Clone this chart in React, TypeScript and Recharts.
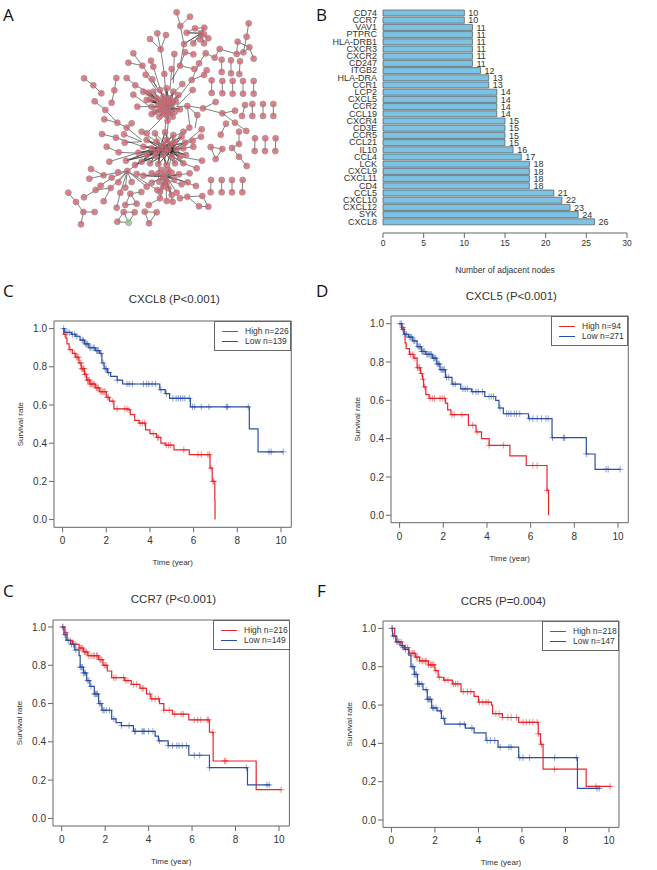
// App.tsx
import {
  BarChart,
  Bar,
  ComposedChart,
  ScatterChart,
  Scatter,
  Line,
  XAxis,
  YAxis,
  LabelList,
  ReferenceArea,
} from "recharts";

const FONT = '"Liberation Sans", Arial, sans-serif';
const RED = "#e8262b";
const BLUE = "#2b4fa3";
const AXIS = "#666";
const TEXT = "#333";

// panel B
const genes = ["CD74","CCR7","VAV1","PTPRC","HLA-DRB1","CXCR3","CXCR2","CD247","ITGB2","HLA-DRA","CCR1","LCP2","CXCL5","CCR2","CCL19","CXCR4","CD3E","CCR5","CCL21","IL10","CCL4","LCK","CXCL9","CXCL11","CD4","CCL5","CXCL10","CXCL12","SYK","CXCL8"];
const adjacent = [10,10,11,11,11,11,11,11,12,13,13,14,14,14,14,15,15,15,15,16,17,18,18,18,18,21,22,23,24,26];
const barTicks = [0,5,10,15,20,25,30];

// panel A at 3x
type P = number[];
const cluster1: P[] = [[460,275],[480,270],[500,265],[520,275],[535,285],[450,298],[470,295],[490,290],[510,295],[528,305],[440,300],[455,320],[475,315],[495,310],[515,315],[540,328],[465,335],[485,335],[505,330],[525,335],[455,342],[478,350],[498,345],[518,350],[503,362],[490,325],[500,300],[510,340],[480,305],[430,275],[445,278],[488,305],[505,318],[497,330],[485,315],[512,305],[492,340],[480,325]];
const cluster2: P[] = [[465,400],[495,397],[520,405],[545,410],[440,420],[470,425],[500,420],[525,425],[555,428],[430,440],[455,445],[480,445],[505,448],[530,448],[550,445],[415,458],[440,465],[465,468],[490,465],[515,470],[540,470],[558,465],[425,485],[450,490],[475,492],[500,495],[525,490],[550,490],[378,482],[405,495],[490,435],[512,432],[495,455],[470,455]];
const cluster3: P[] = [[410,522],[430,527],[455,520],[475,520],[495,525],[515,518],[537,523],[455,548],[478,545],[497,540],[523,538],[490,560],[505,565],[480,575],[515,585],[485,510],[500,548],[490,530],[505,510]];
const outerNodes: P[] = [[530,37],[570,50],[541,78],[560,98],[585,85],[613,83],[603,100],[625,115],[612,103],[600,118],[580,130],[552,132],[612,130],[555,157],[580,163],[617,160],[597,190],[583,207],[620,211],[612,225],[575,240],[540,197],[472,100],[498,105],[450,117],[482,148],[400,160],[385,188],[427,197],[453,182],[460,200],[437,224],[457,238],[493,222],[515,207],[523,162],[252,235],[280,256],[304,280],[349,234],[343,271],[335,308],[380,234],[406,256],[400,284],[284,304],[316,330],[412,320],[313,358],[352,368],[395,370],[380,383],[425,395],[440,400],[306,402],[348,413],[372,403],[374,428],[320,440],[356,457],[328,485],[659,147],[644,173],[710,162],[730,157],[713,125],[740,110],[746,70],[748,142],[761,176],[647,306],[609,325],[667,340],[705,332],[705,368],[739,393],[678,371],[662,404],[717,395],[717,432],[696,444],[717,470],[740,498],[632,441],[667,447],[647,477],[592,345],[562,318],[578,270],[547,252],[205,578],[228,606],[250,636],[284,636],[243,673],[273,507],[268,536],[311,526],[335,533],[354,517],[382,513],[302,557],[287,570],[252,592],[332,564],[311,604],[355,547],[361,578],[395,546],[376,563],[391,581],[424,576],[376,615],[410,611],[350,623],[371,636],[404,637],[352,665],[440,560],[446,615],[434,635],[470,637],[447,670],[472,570],[606,482],[590,505],[569,520],[545,553],[563,547],[588,558],[530,578],[540,595],[562,590],[607,588],[597,619],[625,620],[518,605],[500,603],[480,595],[605,388],[603,410],[568,383],[578,422],[580,440],[550,395]];
const greenNodes: P[] = [[386,668]];
const pairs: P[][] = [[[665,179],[665,216]],[[693,181],[693,220]],[[720,184],[718,222]],[[635,241],[635,279]],[[667,243],[667,280]],[[698,243],[698,281]],[[729,243],[729,281]],[[761,243],[761,281]],[[735,315],[726,348]],[[757,312],[757,348]],[[789,312],[789,348]],[[820,312],[820,348]],[[765,415],[764,453]],[[796,415],[795,453]],[[827,415],[826,453]],[[633,540],[632,577]],[[665,540],[665,577]],[[696,540],[696,577]],[[728,540],[727,577]]];
const paths: P[][] = [
  [[530,37],[541,78],[552,132],[540,197],[515,240]],[[570,50],[541,78]],[[482,148],[472,100]],[[482,148],[498,105]],[[482,148],[450,117]],[[482,148],[493,222],[497,280]],[[400,160],[427,197],[470,260]],[[385,188],[427,197]],[[453,182],[460,200],[480,265]],[[437,224],[470,270]],[[457,238],[480,280]],[[515,207],[510,270]],[[523,162],[520,250]],[[555,157],[540,197]],[[580,163],[555,157]],[[617,160],[597,190],[575,240],[530,300]],[[583,207],[540,197]],[[620,211],[612,225],[575,240]],[[578,270],[530,320]],[[547,252],[510,290]],
  [[560,98],[585,85],[613,83]],[[659,147],[644,173],[617,160]],[[659,147],[710,162],[730,157],[748,142],[761,176]],[[713,125],[710,162]],[[713,125],[748,142]],[[740,110],[746,70]],[[740,110],[730,157]],
  [[252,235],[280,256],[304,280]],[[349,234],[343,271],[335,308]],[[380,234],[406,256],[470,290]],[[400,284],[450,320]],[[284,304],[316,330],[352,368],[380,383],[425,420]],[[313,358],[352,368]],[[395,370],[380,383]],[[412,320],[470,320]],[[530,320],[562,318],[609,325],[647,306]],[[609,325],[667,340],[705,332]],[[667,340],[705,368],[739,393]],[[562,318],[592,345],[585,385]],[[562,318],[570,383]],[[678,371],[662,404]],[[717,395],[717,432],[696,444],[717,470],[740,498]],[[632,441],[667,447],[647,477],[632,441]],
  [[306,402],[348,413],[430,440]],[[372,403],[425,425]],[[374,428],[425,425]],[[320,440],[356,457],[430,460]],[[328,485],[415,458]],[[425,395],[470,425]],[[440,400],[490,350]],
  [[205,578],[228,606],[250,636],[284,636]],[[243,673],[250,636]],[[273,507],[311,526],[354,517],[382,513],[425,485]],[[268,536],[311,526]],[[252,592],[287,570],[302,557],[335,533],[382,513]],[[287,570],[332,564],[382,513]],[[311,604],[332,564]],[[355,547],[382,513]],[[361,578],[382,513]],[[395,546],[382,513]],[[376,563],[382,513]],[[391,581],[424,576]],[[391,581],[410,611],[376,615],[391,581]],[[350,623],[361,578]],[[371,636],[404,637]],[[371,636],[352,665],[386,668],[371,636]],[[386,668],[404,637]],[[440,560],[382,513]],[[472,570],[382,513]],[[446,615],[480,595]],[[434,635],[470,637],[447,670],[434,635]],
  [[606,482],[540,470]],[[590,505],[550,490]],[[569,520],[500,530]],[[545,553],[500,540]],[[563,547],[500,530]],[[588,558],[510,530]],[[530,578],[500,530]],[[540,595],[562,590],[607,588],[625,620],[597,619],[562,590]],[[518,605],[497,540]],[[500,603],[497,540]],[[480,595],[497,540]],[[605,388],[555,428]],[[603,410],[555,428]],[[568,383],[525,425]],[[578,422],[530,448]],[[580,440],[550,445]],[[550,395],[500,420]],[[497,360],[495,400]],[[505,362],[500,420]],[[495,450],[495,530]],[[480,450],[475,540]],[[515,460],[500,545]],
];
const topCluster: P[] = [[585,85],[613,83],[625,115],[612,130],[580,130],[600,118],[612,103],[560,98],[552,132]];
const fans: { hub: P; spokes: P[] }[] = [
  { hub: [603,100], spokes: topCluster },
  { hub: [497,318], spokes: cluster1 },
  { hub: [510,325], spokes: cluster1 },
  { hub: [480,445], spokes: cluster2 },
  { hub: [515,450], spokes: cluster2 },
  { hub: [495,530], spokes: cluster3 },
];

const toPoints = (pts: P[]) => pts.map((p) => ({ x: p[0], y: p[1] }));
// one walk per series: a fan goes out to each spoke and back to its hub
const edgeWalks = [
  ...paths,
  ...pairs,
  ...fans.map((f) => f.spokes.flatMap((s) => [s, f.hub])),
].map(toPoints);
const pinkPoints = toPoints([...cluster1, ...cluster2, ...cluster3, ...outerNodes, ...pairs.flat()]);
const greenPoints = toPoints(greenNodes);

const nodeShape = (fill: string) => (p: any) => (
  <circle cx={p.cx} cy={p.cy} r={3} fill={fill} fillOpacity={0.8} stroke="#8a8a8a" strokeWidth={0.6} />
);
const noShape = () => <g />;

// survival panels: [time, survival] at each drop
const cxcl8High: P[] = [[0,1],[0.05,0.97],[0.15,0.95],[0.2,0.92],[0.3,0.89],[0.45,0.87],[0.6,0.85],[0.75,0.82],[0.85,0.79],[1,0.76],[1.1,0.73],[1.25,0.71],[1.5,0.69],[1.7,0.67],[2,0.64],[2.15,0.62],[2.35,0.58],[3,0.575],[3.1,0.55],[3.3,0.52],[3.5,0.505],[3.8,0.47],[4,0.45],[4.3,0.43],[4.5,0.4],[4.7,0.39],[5.1,0.365],[5.8,0.34],[6.75,0.27],[6.85,0.2],[6.97,0.1],[6.98,0]];
const cxcl8Low: P[] = [[0,1],[0.1,0.98],[0.4,0.97],[0.6,0.96],[0.8,0.94],[1,0.92],[1.2,0.9],[1.5,0.885],[1.7,0.87],[1.8,0.82],[1.9,0.79],[2.05,0.77],[2.2,0.75],[2.5,0.73],[2.75,0.71],[4.45,0.68],[4.7,0.66],[4.9,0.635],[5.85,0.59],[8.55,0.475],[8.95,0.355],[10.1,0.355]];
const cxcl8HighCens = [0.1,0.35,0.55,0.62,0.68,0.72,0.8,0.84,0.88,0.92,0.95,0.98,1.02,1.06,1.14,1.18,1.22,1.26,1.3,1.35,1.4,1.45,1.55,1.6,1.65,1.75,1.8,1.85,1.9,1.95,2.05,2.1,2.3,2.5,2.85,2.95,3.05,3.55,3.65,3.75,4.15,4.35,4.4,4.75,4.85,4.95,5.55,6.2,6.35,6.65,6.72,6.8,6.88,6.92];
const cxcl8LowCens = [0.05,0.2,0.3,0.45,0.55,0.65,0.9,0.95,1.05,1.1,1.15,1.25,1.3,1.4,1.45,1.55,1.6,1.65,1.75,1.85,1.95,2,2.1,2.5,2.95,3.05,3.2,3.7,3.85,3.95,4.1,4.25,4.5,4.75,5.05,5.2,5.3,5.4,5.5,5.6,5.8,5.95,6.05,6.35,6.7,7.5,7.55,8.5,9.45,9.55,10.1];

const cxcl5High: P[] = [[0,1],[0.1,0.98],[0.2,0.95],[0.25,0.9],[0.3,0.87],[0.45,0.84],[0.65,0.82],[0.8,0.77],[0.95,0.74],[1.05,0.71],[1.1,0.67],[1.2,0.63],[1.35,0.61],[2.1,0.585],[2.2,0.55],[2.35,0.525],[3.15,0.47],[3.5,0.435],[3.75,0.4],[4.1,0.365],[5.05,0.31],[5.8,0.26],[6.75,0.13],[6.82,0]];
const cxcl5Low: P[] = [[0,1],[0.1,0.97],[0.2,0.945],[0.4,0.93],[0.6,0.91],[0.8,0.88],[1,0.855],[1.2,0.84],[1.5,0.82],[1.7,0.79],[1.85,0.76],[2.1,0.72],[2.4,0.685],[2.8,0.66],[3.3,0.645],[3.9,0.62],[4.4,0.6],[4.55,0.56],[4.75,0.53],[5.9,0.505],[6.98,0.405],[8.55,0.32],[8.95,0.24],[10.1,0.24]];
const cxcl5HighCens = [0.15,0.5,0.6,0.7,0.82,0.88,0.92,1,1.08,1.15,1.4,1.5,1.6,1.85,1.95,2.05,2.4,2.5,2.85,3.35,3.55,4.1,4.75,6.1,6.3,6.75];
const cxcl5LowCens = [0.02,0.08,0.15,0.25,0.32,0.45,0.5,0.55,0.65,0.7,0.85,0.9,0.95,1.02,1.06,1.1,1.15,1.25,1.3,1.35,1.4,1.45,1.55,1.6,1.65,1.72,1.78,1.82,1.9,1.95,2,2.05,2.15,2.25,2.45,2.55,2.9,3,3.1,3.35,3.5,3.6,3.8,4.1,4.2,4.3,4.6,4.9,5,5.1,5.25,5.35,5.5,5.95,6.1,6.3,6.5,6.7,6.8,7,7.5,7.55,8.55,9.45,9.55,10.1];

const ccr7High: P[] = [[0,1],[0.15,0.97],[0.25,0.93],[0.5,0.91],[0.8,0.89],[1,0.87],[1.2,0.85],[1.7,0.83],[1.9,0.8],[2.1,0.77],[2.3,0.735],[2.9,0.72],[3.2,0.7],[3.6,0.68],[3.9,0.65],[4.1,0.625],[4.5,0.6],[4.7,0.565],[5.1,0.545],[5.85,0.515],[6.8,0.45],[6.97,0.3],[8.95,0.15],[10.1,0.15]];
const ccr7Low: P[] = [[0,1],[0.1,0.96],[0.2,0.93],[0.4,0.91],[0.6,0.88],[0.8,0.85],[0.85,0.79],[1,0.76],[1.15,0.72],[1.3,0.69],[1.5,0.65],[1.7,0.6],[1.85,0.565],[2.3,0.52],[2.5,0.5],[2.75,0.485],[3.3,0.455],[4.3,0.43],[4.45,0.405],[4.9,0.38],[5.85,0.33],[6.8,0.265],[8.55,0.175],[9.6,0.175]];
const ccr7HighCens = [0.05,0.2,0.4,0.55,0.65,0.85,0.9,0.95,1.05,1.1,1.15,1.25,1.35,1.45,1.5,1.6,1.65,1.75,1.8,1.85,1.95,2,2.05,2.4,2.5,2.85,2.95,3.05,3.3,3.45,3.7,3.75,4.05,4.15,4.3,4.45,4.7,4.95,5.2,5.5,5.6,6.1,6.25,6.4,6.7,6.75,6.95,7.5,7.55,10.1];
const ccr7LowCens = [0.05,0.15,0.3,0.45,0.55,0.65,0.85,0.9,0.95,1,1.05,1.1,1.2,1.25,1.35,1.5,1.55,1.6,1.65,1.75,1.8,1.9,1.95,2.05,2.2,2.4,2.75,3.1,3.35,3.4,3.7,3.75,3.8,4,4.2,4.5,4.9,5.1,5.3,5.4,5.55,5.75,6.1,6.35,6.8,8.5,9.45,9.55];

const ccr5High: P[] = [[0,1],[0.15,0.96],[0.25,0.93],[0.5,0.9],[0.8,0.87],[1.1,0.85],[1.3,0.83],[1.7,0.81],[2,0.78],[2.15,0.745],[2.4,0.73],[2.8,0.71],[3.2,0.67],[3.8,0.645],[4,0.615],[4.6,0.6],[4.65,0.555],[5.1,0.535],[5.85,0.51],[6.75,0.45],[6.85,0.395],[6.97,0.265],[8.95,0.175],[10.1,0.175]];
const ccr5Low: P[] = [[0,1],[0.05,0.96],[0.2,0.93],[0.4,0.91],[0.6,0.89],[0.8,0.86],[0.9,0.8],[1.05,0.76],[1.2,0.71],[1.45,0.68],[1.65,0.63],[1.85,0.585],[2.1,0.57],[2.3,0.53],[2.45,0.5],[3.4,0.48],[3.8,0.455],[4.35,0.415],[4.9,0.38],[5.85,0.325],[8.55,0.165],[9.6,0.165]];
const ccr5HighCens = [0.05,0.3,0.45,0.55,0.65,0.75,0.85,0.95,1,1.05,1.15,1.2,1.3,1.4,1.45,1.55,1.6,1.7,1.8,1.85,1.9,1.95,2.05,2.2,2.45,2.6,2.85,2.95,3.05,3.3,3.5,3.65,4.05,4.2,4.35,4.45,4.8,4.95,5.1,5.35,5.5,5.75,6.05,6.2,6.35,6.5,6.7,6.75,6.9,7.5,9.4,10.05];
const ccr5LowCens = [0.02,0.1,0.25,0.35,0.5,0.65,0.95,1,1.05,1.1,1.15,1.2,1.25,1.3,1.4,1.6,1.65,1.7,1.75,1.8,1.9,1.95,2.05,2.25,2.4,3.15,3.35,3.7,4.4,4.55,4.75,5,5.4,5.5,5.9,6.05,6.35,7.5,8.5,9.45,9.55];

const timeTicks = [0,2,4,6,8,10];
const rateTicks = [0,0.2,0.4,0.6,0.8,1];

const stepAt = (steps: P[], t: number) => {
  if (t > steps[steps.length - 1][0]) return null;
  let v = steps[0][1];
  for (const s of steps) if (s[0] <= t) v = s[1];
  return v;
};

const buildRows = (high: P[], low: P[], highCens: number[], lowCens: number[]) => {
  const times = new Set<number>();
  high.forEach((s) => times.add(s[0]));
  low.forEach((s) => times.add(s[0]));
  highCens.forEach((t) => times.add(t));
  lowCens.forEach((t) => times.add(t));
  return [...times].sort((a, b) => a - b).map((t) => ({
    t,
    high: stepAt(high, t),
    low: stepAt(low, t),
    highMark: highCens.includes(t),
    lowMark: lowCens.includes(t),
  }));
};

const censorDot = (color: string, flag: string) => (p: any) =>
  p.payload[flag] && p.cy != null ? (
    <path
      key={p.index}
      d={`M${p.cx - 3.2},${p.cy}H${p.cx + 3.2}M${p.cx},${p.cy - 3.2}V${p.cy + 3.2}`}
      stroke={color}
      strokeWidth={0.9}
      strokeOpacity={0.6}
      fill="none"
    />
  ) : (
    <g key={p.index} />
  );

const KmPanel = ({ title, box, x0, x10, y1, y0, names, high, low, highCens, lowCens, titleY }: any) => {
  const [l, t, r, b] = box;
  const xUnit = (x10 - x0) / 10;
  const yUnit = y0 - y1;
  const xDomain = [(l - x0) / xUnit, (r - x0) / xUnit];
  const yDomain = [(y0 - b) / yUnit, (y0 - t) / yUnit];
  const rows = buildRows(high, low, highCens, lowCens);
  return (
    <>
      <div style={{ position: "absolute", left: l + 2, width: r - l, top: titleY, textAlign: "center", font: `11.5px ${FONT}`, color: TEXT }}>
        {title}
      </div>
      <div style={{ position: "absolute", left: l - 50, top: t - 10 }}>
        <ComposedChart
          width={r - l + 60}
          height={b - t + 60}
          data={rows}
          margin={{ top: 10, right: 10, bottom: 12, left: 12 }}
        >
          <XAxis
            dataKey="t"
            type="number"
            domain={xDomain}
            ticks={timeTicks}
            allowDataOverflow
            axisLine={false}
            tickSize={5}
            tickMargin={5}
            tickLine={{ stroke: AXIS }}
            height={38}
            tick={{ fontSize: 10, fontFamily: FONT, fill: TEXT }}
            label={{ value: "Time (year)", position: "insideBottom", offset: 0, style: { fontSize: 8, fontFamily: FONT, fill: TEXT } }}
          />
          <YAxis
            type="number"
            domain={yDomain}
            ticks={rateTicks}
            allowDataOverflow
            axisLine={false}
            width={38}
            tickSize={5}
            tickLine={{ stroke: AXIS }}
            tickFormatter={(v: number) => v.toFixed(1)}
            tick={{ fontSize: 10, fontFamily: FONT, fill: TEXT }}
            label={{ value: "Survival rate", angle: -90, position: "insideLeft", offset: 4, style: { textAnchor: "middle", fontSize: 8, fontFamily: FONT, fill: TEXT } }}
          />
          <ReferenceArea x1={xDomain[0]} x2={xDomain[1]} y1={yDomain[0]} y2={yDomain[1]} fill="none" stroke={AXIS} strokeWidth={1} />
          <Line dataKey="high" type="stepAfter" stroke={RED} strokeWidth={1.2} dot={censorDot(RED, "highMark")} isAnimationActive={false} />
          <Line dataKey="low" type="stepAfter" stroke={BLUE} strokeWidth={1.2} dot={censorDot(BLUE, "lowMark")} isAnimationActive={false} />
        </ComposedChart>
      </div>
      <div style={{ position: "absolute", left: Math.round(r - 77), top: Math.round(t), width: 77, height: 30, boxSizing: "border-box", border: `1px solid ${AXIS}`, background: "#fff", font: `8.5px ${FONT}`, color: TEXT }}>
        {names.map((n: string, i: number) => (
          <div key={n} style={{ position: "absolute", left: 0, top: 4 + i * 10, width: 75, height: 10 }}>
            <div style={{ position: "absolute", left: 7, top: 5, width: 16, height: 1, background: i === 0 ? RED : BLUE }} />
            <div style={{ position: "absolute", left: 30, top: 0, whiteSpace: "nowrap", lineHeight: "10px" }}>{n}</div>
          </div>
        ))}
      </div>
    </>
  );
};

const Letter = ({ text, x, y }: { text: string; x: number; y: number }) => (
  <div style={{ position: "absolute", left: x, top: y, font: `17px/17px "Open Sans", sans-serif`, color: "#111" }}>{text}</div>
);

export default function App() {
  const barData = genes.map((name, i) => ({ name, value: adjacent[i] }));
  return (
    <div style={{ position: "absolute", left: 0, top: 0, width: 657, height: 870, overflow: "hidden", background: "#fff" }}>
      <Letter text="A" x={3} y={6} />
      <Letter text="B" x={316} y={6} />
      <Letter text="C" x={3} y={282} />
      <Letter text="D" x={316} y={282} />
      <Letter text="C" x={3} y={582} />
      <Letter text="F" x={317} y={582} />

      <div style={{ position: "absolute", left: 0, top: 0 }}>
        <ScatterChart width={300} height={260} margin={{ top: 0, right: 0, bottom: 0, left: 0 }}>
          <XAxis dataKey="x" type="number" domain={[0, 900]} hide />
          <YAxis dataKey="y" type="number" domain={[0, 780]} reversed hide />
          {edgeWalks.map((walk, i) => (
            <Scatter key={i} data={walk} line={{ stroke: "#2a2a2a", strokeWidth: 0.6 }} shape={noShape} isAnimationActive={false} />
          ))}
          <Scatter data={pinkPoints} shape={nodeShape("#d9626e")} isAnimationActive={false} />
          <Scatter data={greenPoints} shape={nodeShape("#8fce8a")} isAnimationActive={false} />
        </ScatterChart>
      </div>

      <div style={{ position: "absolute", left: 310, top: 0 }}>
        <BarChart
          layout="vertical"
          width={347}
          height={280}
          data={barData}
          margin={{ top: 9, right: 30, bottom: 7, left: 0 }}
        >
          <XAxis
            type="number"
            domain={[0, 30]}
            ticks={barTicks}
            height={40}
            stroke={AXIS}
            tickSize={5}
            tick={{ fontSize: 8.5, fontFamily: FONT, fill: TEXT }}
            label={{ value: "Number of adjacent nodes", position: "insideBottom", offset: 0, style: { fontSize: 8.5, fontFamily: FONT, fill: TEXT } }}
          />
          <YAxis
            type="category"
            dataKey="name"
            width={73}
            interval={0}
            axisLine={false}
            tickLine={false}
            tickMargin={6}
            tickSize={0}
            padding={{ top: 0, bottom: 8 }}
            tick={{ fontSize: 9, fontFamily: FONT, fill: TEXT }}
          />
          <Bar dataKey="value" barSize={6} fill="#7cc3e3" stroke="#555" strokeWidth={0.7} isAnimationActive={false}>
            <LabelList dataKey="value" position="right" offset={4} style={{ fontSize: 9, fontFamily: FONT, fill: TEXT }} />
          </Bar>
        </BarChart>
      </div>

      <KmPanel title="CXCL8 (P<0.001)" titleY={293} box={[53.7, 320.7, 291, 527]} x0={62.3} x10={280.7} y1={328.3} y0={519.3} names={["High n=226", "Low n=139"]} high={cxcl8High} low={cxcl8Low} highCens={cxcl8HighCens} lowCens={cxcl8LowCens} />
      <KmPanel title="CXCL5 (P<0.001)" titleY={290} box={[390.7, 316, 628, 522.7]} x0={399.3} x10={617.7} y1={323.7} y0={515.3} names={["High n=94", "Low n=271"]} high={cxcl5High} low={cxcl5Low} highCens={cxcl5HighCens} lowCens={cxcl5LowCens} />
      <KmPanel title="CCR7 (P<0.001)" titleY={593} box={[53.3, 620.3, 289.7, 826.3]} x0={62} x10={279.3} y1={627.3} y0={818.7} names={["High n=216", "Low n=149"]} high={ccr7High} low={ccr7Low} highCens={ccr7HighCens} lowCens={ccr7LowCens} />
      <KmPanel title="CCR5 (P=0.004)" titleY={595} box={[383.3, 621.3, 619.3, 827.7]} x0={391.7} x10={609.3} y1={628.7} y0={820.3} names={["High n=218", "Low n=147"]} high={ccr5High} low={ccr5Low} highCens={ccr5HighCens} lowCens={ccr5LowCens} />
    </div>
  );
}
